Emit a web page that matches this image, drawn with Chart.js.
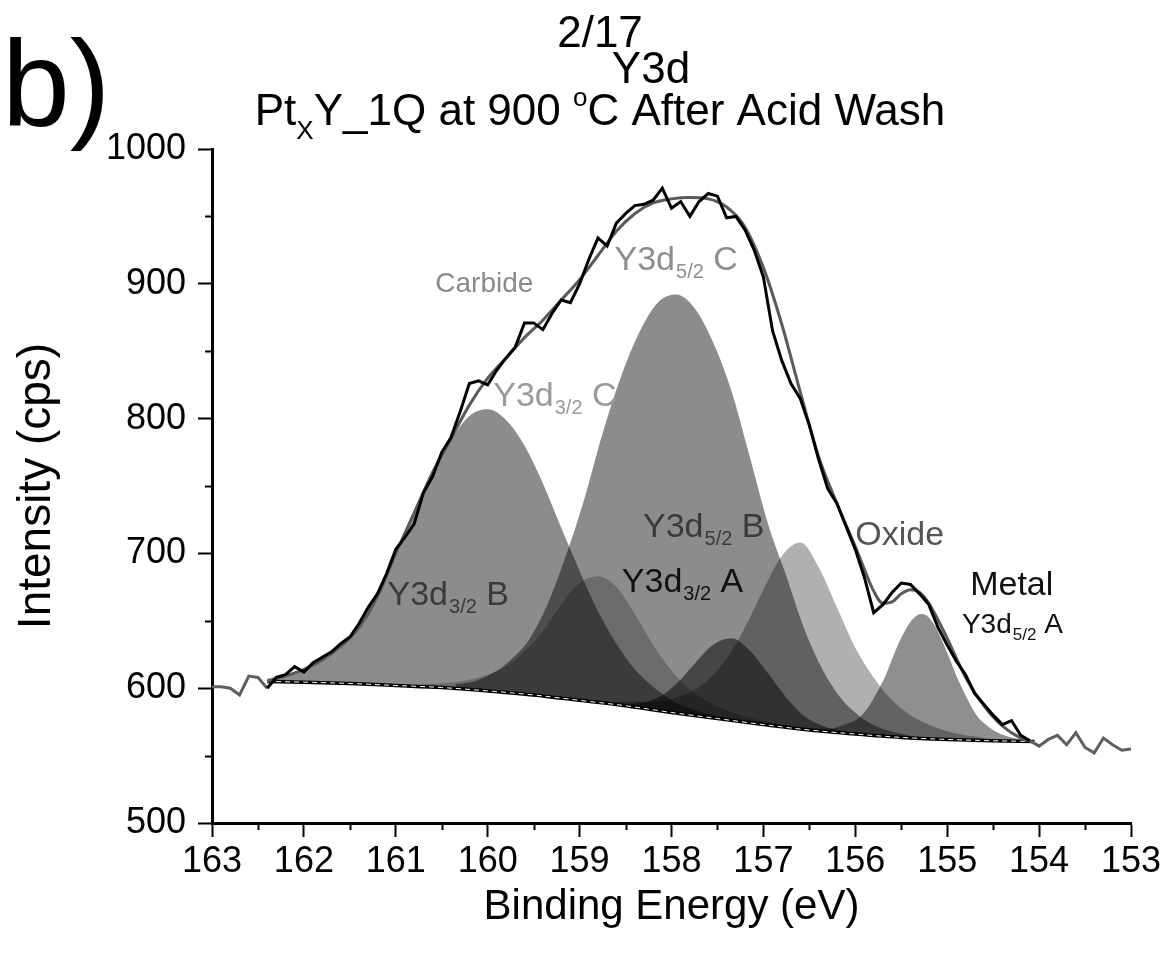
<!DOCTYPE html>
<html>
<head>
<meta charset="utf-8">
<title>Y3d - PtxY_1Q at 900 C After Acid Wash</title>
<script src="https://cdn.jsdelivr.net/npm/chart.js@4.4.1/dist/chart.umd.min.js"></script>
<style>
  html, body { margin: 0; padding: 0; background: #fff; }
  canvas { display: block; }
</style>
</head>
<body>
<canvas id="xpsChart" width="1176" height="960"></canvas>
<script>
// Y3d XPS spectrum, binding energy (eV) vs intensity (cps)

// measured spectrum
const rawBE = [
  163.0, 162.9, 162.8, 162.7, 162.6, 162.5, 162.4, 162.3, 162.2, 162.1,
  162.0, 161.9, 161.8, 161.7, 161.6, 161.5, 161.4, 161.3, 161.2, 161.1,
  161.0, 160.9, 160.8, 160.7, 160.6, 160.5, 160.4, 160.3, 160.2, 160.1,
  160.0, 159.9, 159.8, 159.7, 159.6, 159.5, 159.4, 159.3, 159.2, 159.1,
  159.0, 158.9, 158.8, 158.7, 158.6, 158.5, 158.4, 158.3, 158.2, 158.1,
  158.0, 157.9, 157.8, 157.7, 157.6, 157.5, 157.4, 157.3, 157.2, 157.1,
  157.0, 156.9, 156.8, 156.7, 156.6, 156.5, 156.4, 156.3, 156.2, 156.1,
  156.0, 155.9, 155.8, 155.7, 155.6, 155.5, 155.4, 155.3, 155.2, 155.1,
  155.0, 154.9, 154.8, 154.7, 154.6, 154.5, 154.4, 154.3, 154.2, 154.1,
  154.0, 153.9, 153.8, 153.7, 153.6, 153.5, 153.4, 153.3, 153.2, 153.1,
  153.0
];
const rawCps = [
  601, 601, 600, 595, 609, 608, 600, 608, 610, 616,
  612, 619, 623, 627, 633, 638, 648, 660, 670, 685,
  703, 712, 722, 745, 757, 775, 786, 805, 826, 828,
  825, 836, 845, 853, 871, 871, 866, 878, 888, 886,
  900, 918, 934, 928, 945, 952, 958, 959, 962, 971,
  956, 961, 950, 961, 967, 965, 949, 950, 940, 925,
  905, 865, 843, 826, 815, 795, 770, 748, 737, 720,
  703, 682, 656, 662, 671, 678, 677, 670, 662, 645,
  632, 620, 610, 596, 588, 580, 573, 576, 565, 561,
  557, 562, 565, 558, 567, 556, 552, 563, 558, 554,
  555
];

// fitted envelope
const envBE = [
  162.4, 162.2, 162.0, 161.8, 161.6, 161.4, 161.2, 161.0, 160.8, 160.6,
  160.4, 160.2, 160.0, 159.8, 159.6, 159.4, 159.2, 159.0, 158.8, 158.6,
  158.4, 158.2, 158.0, 157.8, 157.6, 157.4, 157.2, 157.0, 156.8, 156.6,
  156.4, 156.2, 156.0, 155.9, 155.8, 155.7, 155.6, 155.5, 155.4, 155.3,
  155.2, 155.0, 154.8, 154.6, 154.4, 154.2, 154.1
];
const envCps = [
  605, 609, 614, 621, 631, 645, 668, 700, 730, 760,
  785, 810, 830, 845, 860, 873, 888, 903, 921, 939,
  952, 960, 963, 964, 963, 957, 942, 912, 870, 820,
  772, 737, 705, 688, 672, 663, 664, 670, 673, 671,
  663, 637, 608, 587, 572, 563, 561
];

// Shirley background
const bgBE = [162.4, 162.0, 161.5, 161.0, 160.5, 160.0, 159.5, 159.0, 158.5, 158.0, 157.5, 157.0, 156.5, 156.0, 155.5, 155.0, 154.5, 154.05];
const bgCps = [605, 604.5, 603.5, 602, 600.5, 598, 595, 591, 587, 582, 577.5, 573, 569, 566, 563.5, 562, 561, 560.5];

// fitted components (Y3d3/2 C, Y3d5/2 C, Y3d3/2 B, Y3d5/2 B, Y3d3/2 A, Y3d5/2 A)
const c32BE = [162.4, 162.2, 162.0, 161.8, 161.6, 161.4, 161.2, 161.0, 160.8, 160.6, 160.4, 160.2, 160.0, 159.8, 159.6, 159.4, 159.2, 159.0, 158.8, 158.6, 158.4, 158.2, 158.0, 157.8, 157.6, 157.4, 157.2];
const c32Cps = [607, 610, 614, 621, 632, 648, 670, 698, 728, 759, 784, 802, 807, 799, 780, 752, 719, 687, 657, 633, 614, 601, 591, 585, 581, 577.6, 575.2];

const c52BE = [160.35, 160.15, 159.95, 159.75, 159.55, 159.35, 159.15, 158.95, 158.75, 158.55, 158.35, 158.15, 157.95, 157.75, 157.55, 157.35, 157.15, 156.95, 156.75, 156.55, 156.35, 156.15, 155.95, 155.75, 155.55, 155.35];
const c52Cps = [603, 605, 611, 621, 636, 662, 698, 740, 789, 831, 864, 886, 892, 882, 857, 821, 772, 722, 683, 643, 613, 592, 579, 571, 567, 564];

const b32BE = [160.8, 160.4, 160.0, 159.8, 159.6, 159.4, 159.2, 159.0, 158.8, 158.6, 158.4, 158.2, 158.0, 157.8, 157.6, 157.2, 156.8];
const b32Cps = [603, 604, 610, 616, 627, 642, 662, 678, 683, 675, 655, 632, 613, 599, 590, 579, 573];

const b52BE = [158.6, 158.2, 157.8, 157.6, 157.4, 157.2, 157.0, 156.8, 156.6, 156.4, 156.2, 156.0, 155.8, 155.6, 155.4, 155.0, 154.6];
const b52Cps = [590, 590, 597, 606, 622, 645, 673, 698, 708, 690, 660, 630, 608, 591, 580, 568, 563];

const a32BE = [158.75, 158.55, 158.35, 158.15, 157.95, 157.75, 157.55, 157.35, 157.15, 156.95, 156.75, 156.55, 156.35, 156.15, 155.95];
const a32Cps = [589, 588, 589, 593, 603, 618, 632, 637, 628, 611, 593, 579, 572, 568, 566];

const a52BE = [156.48, 156.28, 156.08, 155.98, 155.88, 155.78, 155.68, 155.58, 155.48, 155.38, 155.28, 155.18, 155.08, 154.98, 154.88, 154.78, 154.68, 154.58, 154.48, 154.28, 154.08];
const a52Cps = [570, 570, 574, 577, 584, 595, 608, 625, 640, 651, 655, 651, 639, 623, 606, 592, 580, 573, 568, 563, 561];

// axis ticks
const xTickMin = 153, xTickMax = 163;
const yTickMin = 500, yTickMax = 1000;
const xMinorTicks = [162.5, 161.5, 160.5, 159.5, 158.5, 157.5, 156.5, 155.5, 154.5, 153.5];
const yMinorTicks = [550, 650, 750, 850, 950];

const FONT = "'Liberation Sans', Arial, Helvetica, sans-serif";
const BG_INDEX = 3;

// peak annotations (anchored in data coordinates, left/baseline)
const peakLabels = [
  { be: 160.57, cps: 894, main: 'Carbide', color: '#8a8a8a', size: 28 },
  { be: 159.94, cps: 809, main: 'Y3d', sub: '3/2', tail: ' C', color: '#9a9a9a', size: 34 },
  { be: 158.62, cps: 910, main: 'Y3d', sub: '5/2', tail: ' C', color: '#8e8e8e', size: 34 },
  { be: 158.31, cps: 712, main: 'Y3d', sub: '5/2', tail: ' B', color: '#3a3a3a', size: 34 },
  { be: 158.54, cps: 671, main: 'Y3d', sub: '3/2', tail: ' A', color: '#111111', size: 34 },
  { be: 161.09, cps: 662, main: 'Y3d', sub: '3/2', tail: ' B', color: '#3a3a3a', size: 34 },
  { be: 156.00, cps: 706, main: 'Oxide', color: '#555555', size: 34 },
  { be: 154.75, cps: 669, main: 'Metal', color: '#111111', size: 34 },
  { be: 154.84, cps: 641, main: 'Y3d', sub: '5/2', tail: ' A', color: '#111111', size: 28 }
];

function pts(xs, ys) {
  return xs.map((x, i) => ({ x: x, y: ys[i] }));
}

function drawRich(ctx, x, y, label) {
  ctx.save();
  ctx.fillStyle = label.color;
  ctx.textAlign = 'left';
  ctx.textBaseline = 'alphabetic';
  ctx.font = label.size + 'px ' + FONT;
  ctx.fillText(label.main, x, y);
  x += ctx.measureText(label.main).width;
  if (label.sub) {
    const s = Math.round(label.size * 0.6);
    ctx.font = s + 'px ' + FONT;
    ctx.fillText(label.sub, x + 1, y + Math.round(label.size * 0.24));
    x += ctx.measureText(label.sub).width + 1;
  }
  if (label.tail) {
    ctx.font = label.size + 'px ' + FONT;
    ctx.fillText(label.tail, x, y);
  }
  ctx.restore();
}

// peak labels + minor ticks
const annotationPlugin = {
  id: 'annotations',
  afterDatasetsDraw(chart) {
    const ctx = chart.ctx;
    const xs = chart.scales.x, ys = chart.scales.y;
    peakLabels.forEach(l => drawRich(ctx, xs.getPixelForValue(l.be), ys.getPixelForValue(l.cps), l));
  },
  afterDraw(chart) {
    const ctx = chart.ctx;
    const xs = chart.scales.x, ys = chart.scales.y;
    const area = chart.chartArea;
    ctx.save();
    ctx.strokeStyle = '#000';
    ctx.lineWidth = 2;
    ctx.beginPath();
    xMinorTicks.forEach(v => {
      const px = Math.round(xs.getPixelForValue(v)) + 0.5;
      ctx.moveTo(px, area.bottom);
      ctx.lineTo(px, area.bottom + 7);
    });
    yMinorTicks.forEach(v => {
      const py = Math.round(ys.getPixelForValue(v)) + 0.5;
      ctx.moveTo(area.left, py);
      ctx.lineTo(area.left - 7, py);
    });
    ctx.stroke();
    ctx.restore();
  }
};

// page heading, figure letter
const headingPlugin = {
  id: 'heading',
  afterDraw(chart) {
    const ctx = chart.ctx;
    ctx.save();
    ctx.fillStyle = '#000';
    ctx.textBaseline = 'alphabetic';

    ctx.textAlign = 'left';
    ctx.font = '122px ' + FONT;
    ctx.fillText('b)', 2, 126);

    ctx.textAlign = 'center';
    ctx.font = '44px ' + FONT;
    ctx.fillText('2/17', 600, 47);
    ctx.fillText('Y3d', 651, 83);

    // Pt_X Y_1Q at 900 °C After Acid Wash
    const parts = [
      { t: 'Pt', size: 44, dy: 0 },
      { t: 'X', size: 26, dy: 14 },
      { t: 'Y_1Q at 900 ', size: 44, dy: 0 },
      { t: 'o', size: 26, dy: -19 },
      { t: 'C After Acid Wash', size: 44, dy: 0 }
    ];
    ctx.textAlign = 'left';
    let total = 0;
    parts.forEach(p => { ctx.font = p.size + 'px ' + FONT; p.w = ctx.measureText(p.t).width; total += p.w; });
    let x = 600 - total / 2;
    parts.forEach(p => {
      ctx.font = p.size + 'px ' + FONT;
      ctx.fillText(p.t, x, 125 + p.dy);
      x += p.w;
    });
    ctx.restore();
  }
};

const peakStyle = (color) => ({
  borderWidth: 0,
  pointRadius: 0,
  backgroundColor: color,
  fill: { target: BG_INDEX },
  cubicInterpolationMode: 'monotone'
});

const ctx = document.getElementById('xpsChart').getContext('2d');
const chart = new Chart(ctx, {
  type: 'line',
  data: {
    datasets: [
      {
        label: 'Raw',
        data: pts(rawBE, rawCps),
        borderColor: '#000',
        borderWidth: 3,
        pointRadius: 0,
        fill: false,
        segment: {
          borderColor: c => (c.p0.parsed.x > 162.45 || c.p1.parsed.x < 154.05) ? '#5f5f5f' : '#000'
        }
      },
      {
        label: 'Envelope',
        data: pts(envBE, envCps),
        borderColor: '#5a5a5a',
        borderWidth: 3,
        pointRadius: 0,
        fill: false,
        cubicInterpolationMode: 'monotone'
      },
      {
        label: 'Background dash',
        data: pts(bgBE, bgCps),
        borderColor: '#ffffff',
        borderWidth: 1,
        borderDash: [5, 4],
        pointRadius: 0,
        fill: false,
        cubicInterpolationMode: 'monotone'
      },
      {
        label: 'Background',
        data: pts(bgBE, bgCps),
        borderColor: '#000',
        borderWidth: 3.5,
        pointRadius: 0,
        fill: false,
        cubicInterpolationMode: 'monotone'
      },
      Object.assign({ label: 'Y3d3/2 C', data: pts(c32BE, c32Cps) }, peakStyle('rgba(0,0,0,0.45)')),
      Object.assign({ label: 'Y3d5/2 C', data: pts(c52BE, c52Cps) }, peakStyle('rgba(0,0,0,0.45)')),
      Object.assign({ label: 'Y3d3/2 B', data: pts(b32BE, b32Cps) }, peakStyle('rgba(0,0,0,0.24)')),
      Object.assign({ label: 'Y3d5/2 B', data: pts(b52BE, b52Cps) }, peakStyle('rgba(0,0,0,0.31)')),
      Object.assign({ label: 'Y3d3/2 A', data: pts(a32BE, a32Cps) }, peakStyle('rgba(0,0,0,0.5)')),
      Object.assign({ label: 'Y3d5/2 A', data: pts(a52BE, a52Cps) }, peakStyle('rgba(0,0,0,0.44)'))
    ]
  },
  options: {
    responsive: false,
    animation: false,
    layout: { padding: { top: 149, right: 45, left: 0, bottom: 0 } },
    plugins: {
      legend: { display: false },
      tooltip: { enabled: false }
    },
    scales: {
      x: {
        type: 'linear',
        reverse: true,
        min: xTickMin,
        max: xTickMax,
        ticks: {
          stepSize: 1,
          color: '#000',
          padding: 3,
          maxRotation: 0,
          autoSkip: false,
          font: { family: FONT, size: 36 },
          callback: v => String(v)
        },
        grid: { drawOnChartArea: false, drawTicks: true, tickLength: 14, tickWidth: 2, tickColor: '#000' },
        border: { display: true, color: '#000', width: 3 },
        title: {
          display: true,
          text: 'Binding Energy (eV)',
          color: '#000',
          font: { family: FONT, size: 42 },
          padding: { top: 0, bottom: 27 }
        },
        afterFit(scale) { scale.height = 137; }
      },
      y: {
        type: 'linear',
        min: yTickMin,
        max: yTickMax,
        ticks: {
          stepSize: 100,
          color: '#000',
          padding: 12,
          font: { family: FONT, size: 36 },
          callback: v => String(v)
        },
        grid: { drawOnChartArea: false, drawTicks: true, tickLength: 14, tickWidth: 2, tickColor: '#000' },
        border: { display: true, color: '#000', width: 3 },
        title: {
          display: true,
          text: 'Intensity (cps)',
          color: '#000',
          font: { family: FONT, size: 46 },
          padding: { top: 10, bottom: 0 }
        },
        afterFit(scale) { scale.width = 212; }
      }
    }
  },
  plugins: [annotationPlugin, headingPlugin]
});
</script>
</body>
</html>
